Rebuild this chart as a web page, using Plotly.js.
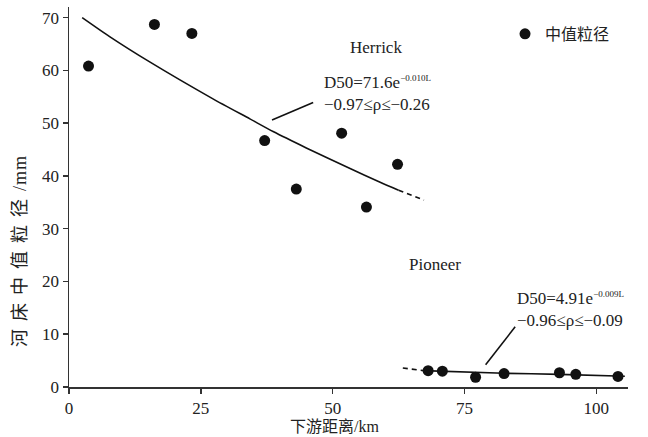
<!DOCTYPE html>
<html>
<head>
<meta charset="utf-8">
<script src="https://cdn.plot.ly/plotly-3.0.1.min.js"></script>
<style>html,body{margin:0;padding:0;background:#fff;}#chart{width:648px;height:437px;}</style>
</head>
<body>
<div id="chart"></div>
<script>
// Herrick measured points
var herrickX = [3.7, 16.2, 23.3, 37.1, 43.1, 51.7, 56.4, 62.3];
var herrickY = [60.8, 68.7, 67.0, 46.7, 37.5, 48.1, 34.1, 42.2];
// Pioneer measured points
var pioneerX = [68.1, 70.8, 77.1, 82.5, 93.0, 96.1, 104.1];
var pioneerY = [3.1, 3.0, 1.85, 2.55, 2.7, 2.4, 2.0];
// Herrick fit curve
var herrickFitX = [2.5, 7.7, 15.3, 27.3, 34.3, 38.7, 45.0, 53.3, 59.0, 62.5];
var herrickFitY = [70.0, 66.4, 61.6, 54.6, 50.8, 48.4, 45.3, 41.4, 38.8, 37.3];
var herrickDashX = [62.5, 67.3];
var herrickDashY = [37.3, 35.4];
// Pioneer fit curve
var pioneerDashX = [63.3, 67.2];
var pioneerDashY = [3.6, 3.1];
var pioneerFitX = [67.2, 82.5, 93.0, 105.4];
var pioneerFitY = [3.1, 2.6, 2.4, 2.05];
// leader lines
var leaderHerrickX = [38.5, 46.3];
var leaderHerrickY = [50.6, 53.9];
var leaderPioneerX = [79.0, 84.6];
var leaderPioneerY = [4.2, 11.4];
// ticks
var xTicks = [0, 25, 50, 75, 100];
var yTicks = [0, 10, 20, 30, 40, 50, 60, 70];

var serif = 'Liberation Serif, Times New Roman, serif';
var cjk = 'Liberation Serif, Noto Sans CJK SC, serif';
var lineStyle = {color: '#111', width: 1.6, shape: 'spline', smoothing: 0.6};

var traces = [
  {x: herrickFitX, y: herrickFitY, mode: 'lines', line: lineStyle, showlegend: false, hoverinfo: 'skip'},
  {x: herrickDashX, y: herrickDashY, mode: 'lines', line: {color: '#111', width: 1.6, dash: '5px,4px'}, showlegend: false, hoverinfo: 'skip'},
  {x: pioneerDashX, y: pioneerDashY, mode: 'lines', line: {color: '#111', width: 1.6, dash: '5px,4px'}, showlegend: false, hoverinfo: 'skip'},
  {x: pioneerFitX, y: pioneerFitY, mode: 'lines', line: lineStyle, showlegend: false, hoverinfo: 'skip'},
  {x: leaderHerrickX, y: leaderHerrickY, mode: 'lines', line: {color: '#111', width: 1.6}, showlegend: false, hoverinfo: 'skip'},
  {x: leaderPioneerX, y: leaderPioneerY, mode: 'lines', line: {color: '#111', width: 1.6}, showlegend: false, hoverinfo: 'skip'},
  {x: herrickX, y: herrickY, mode: 'markers', name: '中值粒径', legendgroup: 'd', marker: {color: '#111', size: 11}},
  {x: pioneerX, y: pioneerY, mode: 'markers', name: '中值粒径', legendgroup: 'd', showlegend: false, marker: {color: '#111', size: 11}}
];

var layout = {
  width: 648, height: 437,
  margin: {l: 69, r: 20, t: 7, b: 50},
  paper_bgcolor: '#fff', plot_bgcolor: '#fff',
  font: {family: serif, size: 16, color: '#222'},
  xaxis: {
    range: [0, 106], tickvals: xTicks, ticktext: xTicks.map(String),
    showgrid: false, zeroline: false, showline: true, linecolor: '#333', linewidth: 1.5,
    ticks: 'outside', ticklen: 5, tickwidth: 1.5, tickcolor: '#333',
    tickfont: {family: serif, size: 17, color: '#222'}, fixedrange: true
  },
  yaxis: {
    range: [0, 72], tickvals: yTicks, ticktext: yTicks.map(String),
    showgrid: false, zeroline: false, showline: true, linecolor: '#333', linewidth: 1.5,
    ticks: 'outside', ticklen: 5, tickwidth: 1.5, tickcolor: '#333',
    tickfont: {family: serif, size: 17, color: '#222'}, fixedrange: true
  },
  showlegend: true,
  legend: {x: 0.78, xanchor: 'left', y: 0.974, yanchor: 'top', bgcolor: 'rgba(0,0,0,0)',
           font: {family: cjk, size: 16, color: '#222'}, itemwidth: 30, tracegroupgap: 0},
  annotations: [
    {xref: 'paper', yref: 'paper', x: (334 - 69) / 559, y: (387 - 426) / 380, text: '下游距离/km',
     showarrow: false, font: {family: cjk, size: 16, color: '#222'}, xanchor: 'center', yanchor: 'middle'},
    {xref: 'paper', yref: 'paper', x: (20 - 69) / 559, y: (387 - 251) / 380,
     text: '<span style="letter-spacing:8px">河床中值粒径</span><span style="letter-spacing:1px">/mm</span>',
     showarrow: false, textangle: -90, font: {family: cjk, size: 18, color: '#222'}, xanchor: 'center', yanchor: 'middle'},
    {x: 58.2, y: 64.4, text: 'Herrick', showarrow: false, xanchor: 'center', yanchor: 'middle',
     font: {family: serif, size: 17, color: '#222'}},
    {x: 47.9, y: 55.6, text: 'D50=71.6e<sup><span style="font-size:9px">−0.010L</span></sup><br>−0.97≤ρ≤−0.26',
     showarrow: false, xanchor: 'left', yanchor: 'middle', align: 'left',
     font: {family: serif, size: 17, color: '#222'}},
    {x: 64.1, y: 23.3, text: 'Pioneer', showarrow: false, xanchor: 'left', yanchor: 'middle',
     font: {family: serif, size: 17, color: '#222'}},
    {x: 84.6, y: 14.7, text: 'D50=4.91e<sup><span style="font-size:9px">−0.009L</span></sup><br>−0.96≤ρ≤−0.09',
     showarrow: false, xanchor: 'left', yanchor: 'middle', align: 'left',
     font: {family: serif, size: 17, color: '#222'}}
  ]
};

Plotly.newPlot('chart', traces, layout, {displayModeBar: false, staticPlot: true});
</script>
</body>
</html>
